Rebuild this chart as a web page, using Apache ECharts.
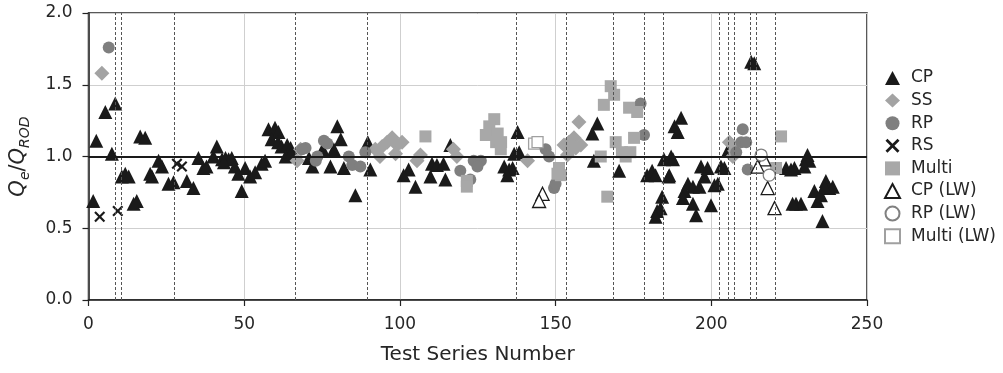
<!DOCTYPE html>
<html>
<head>
<meta charset="utf-8">
<script src="https://cdn.jsdelivr.net/npm/echarts@6/dist/echarts.min.js"></script>
<style>html,body{margin:0;padding:0;background:#fff}#c{width:1003px;height:373px}</style>
</head>
<body>
<div id="c"></div>
<script>
const xTicks = [0, 50, 100, 150, 200, 250];
const yTicks = [0.0, 0.5, 1.0, 1.5, 2.0];
const dividers = [8.5, 10.5, 27.5, 66.5, 89.5, 137.5, 153.5, 168.5, 178.5, 184.5, 202.5, 205.5, 207.5, 212.5, 214.5, 220.5];
const cpData = [[1.5,0.69],[2.5,1.11],[5.4,1.31],[8.6,1.37],[7.5,1.02],[16.6,1.14],[18.2,1.13],[10.7,0.86],[11.8,0.88],[12.9,0.86],[14.5,0.67],[15.5,0.69],
[22.5,0.97],[23.6,0.93],[19.8,0.88],[20.4,0.86],[25.7,0.81],[27.3,0.82],[31.6,0.83],[33.7,0.78],[35.3,0.99],[36.9,0.92],[37.9,0.93],[41.2,1.07],[40.1,1.0],[42.9,0.98],[44,0.99],[45,0.98],[46,0.99],[43.5,0.96],
[47,0.93],[48.1,0.88],[50.3,0.92],[51.9,0.86],[53.5,0.89],[49.2,0.76],[55.6,0.95],[56.7,0.97],[57.8,1.19],[59.9,1.2],[61,1.17],[58.8,1.12],[60.9,1.1],[62,1.07],
[63.8,1.08],[64.9,1.06],[63.3,1.0],[65,1.02],[79.9,1.21],[81,1.12],[78.8,1.05],[70.8,0.99],[71.9,0.93],[77.7,0.93],[82,0.92],[75.2,1.05],[85.7,0.73],[89.7,1.1],[90.5,0.91],[102.8,0.91],[101.2,0.87],[105,0.79],[110.3,0.95],[111.9,0.94],[114,0.95],[109.8,0.86],[114.6,0.84],[116.2,1.08],
[137.8,1.17],[136.7,1.02],[138.3,1.03],[133.5,0.93],[135.1,0.91],[136.2,0.92],[134.5,0.87],[163.4,1.23],[161.8,1.16],[162.3,0.97],
[170.4,0.9],[179.4,0.87],[181,0.9],[182.1,0.87],[184.8,0.98],[186.3,0.86],[184.2,0.72],[182.6,0.62],[183.7,0.64],[182.1,0.58],
[190.3,1.27],[188.2,1.21],[189.2,1.17],[187.1,1.0],[187.7,0.98],[186.5,0.87],[196.7,0.93],[198.8,0.92],[197.8,0.86],[192.5,0.81],[194.1,0.79],[191.4,0.76],[196.2,0.79],[190.9,0.71],[194.1,0.67],[199.9,0.66],[195.1,0.59],[201,0.8],[202.1,0.81],[203.1,0.93],[204.2,0.92],[205.3,1.04],
[212.8,1.66],[213.8,1.65],[224,0.92],[225.6,0.91],[226.7,0.92],[230.9,1.01],[230.4,0.98],[231.5,0.97],[229.9,0.93],[227.2,0.67],[228.8,0.67],[226.1,0.67],[233.1,0.76],[234.1,0.69],[235.2,0.73],[236.8,0.83],[237.9,0.78],[239,0.79],[236.3,0.79],[235.7,0.55]];
const ssData = [[4.3,1.58],[67,0.97],[68.1,1.05],[92.1,1.05],[94.3,1.07],[95.9,1.1],[97.5,1.13],[99.1,1.08],[100.7,1.1],[98.6,1.02],[93.6,1.0],[106.6,1.01],[105.5,0.97],[117.2,1.05],[118.3,1.0],[141,0.97],[157.5,1.24],[152.7,1.08],[154.3,1.1],[155.9,1.13],[154.9,1.05],[156.5,1.06],[158.1,1.08],[153.8,1.01],[205.8,1.1],[206.9,1.0],[207.5,1.04]];
const rpData = [[6.5,1.76],[69.7,1.06],[68.6,1.05],[75.6,1.11],[73.5,1.0],[73,0.97],[76.7,1.09],[83.6,1.0],[84.7,0.94],[87.3,0.93],[88.9,1.03],[119.4,0.9],[122.6,0.84],[123.7,0.97],[126,0.97],[124.9,0.93],[146.8,1.05],[147.9,1.0],[149.5,0.78],[150,0.81],[177.3,1.37],[178.4,1.15],[210.1,1.19],[209.6,1.1],[211.2,1.1],[208,1.03],[211.7,0.91]];
const rsData = [[3.6,0.58],[9.4,0.62],[28.4,0.95],[30,0.93]];
const multiData = [[108.2,1.14],[121.5,0.83],[121.5,0.79],[130.3,1.26],[128.7,1.21],[127.6,1.15],[129.8,1.15],[131.4,1.16],[130.9,1.1],[132.5,1.1],[132.4,1.05],[151.1,0.92],[151.7,0.87],[150.6,0.88],[164.5,1.0],[167.7,1.49],[168.8,1.43],[165.5,1.36],[173.6,1.34],[176.2,1.31],[169.3,1.1],[171.3,1.03],[172.5,1.0],[174,1.03],[175.2,1.13],[166.6,0.72],[222.4,1.14],[220.8,0.92]];
const cpLwData = [[145.8,0.74],[144.7,0.69],[217,0.98],[214.9,0.93],[218.1,0.78],[220.3,0.64]];
const rpLwData = [[216,1.01],[218.6,0.87]];
const multiLwData = [[143.1,1.09],[144.2,1.1]];

const FONT = 'DejaVu Sans';
const TXT = '#262626';
const X_PATH = 'path://M0,1.4 L1.4,0 L5,3.6 L8.6,0 L10,1.4 L6.4,5 L10,8.6 L8.6,10 L5,6.4 L1.4,10 L0,8.6 L3.6,5 Z';
const chart = echarts.init(document.getElementById('c'), null, {renderer: 'canvas'});

function sc(name, data, symbol, size, itemStyle) {
  return {name, type: 'scatter', data, symbol, symbolSize: size,
    itemStyle: Object.assign({opacity: 1}, itemStyle), z: 3,
    emphasis: {disabled: true}, animation: false};
}

chart.setOption({
  animation: false,
  backgroundColor: '#fff',
  grid: {left: 88, right: 136, top: 13, bottom: 73, show: true, borderColor: '#222', borderWidth: 1.5, backgroundColor: 'transparent'},
  xAxis: {
    type: 'value', min: xTicks[0], max: xTicks[xTicks.length - 1], interval: 50,
    name: 'Test Series Number', nameLocation: 'middle', nameGap: 45,
    nameTextStyle: {fontFamily: FONT, fontSize: 20, color: TXT},
    axisLine: {show: true, onZero: false, lineStyle: {color: '#222', width: 1.5}},
    axisTick: {show: true, inside: false, length: 6, lineStyle: {color: '#222', width: 1.2}},
    axisLabel: {fontFamily: FONT, fontSize: 17, color: TXT, margin: 16},
    splitLine: {show: true, lineStyle: {color: '#cfcfcf', width: 1}}
  },
  yAxis: {
    type: 'value', min: yTicks[0], max: yTicks[yTicks.length - 1], interval: 0.5,
    name: '{q|Q}{s|e}{n|/}{q|Q}{s|ROD}', nameLocation: 'middle', nameGap: 56, nameRotate: 90,
    nameTextStyle: {fontFamily: FONT, color: TXT,
      rich: {
        q: {fontFamily: FONT, fontSize: 21, fontStyle: 'italic', color: TXT, lineHeight: 28, verticalAlign: 'middle'},
        s: {fontFamily: FONT, fontSize: 14, fontStyle: 'italic', color: TXT, lineHeight: 14, verticalAlign: 'bottom'},
        n: {fontFamily: FONT, fontSize: 21, color: TXT, lineHeight: 28, verticalAlign: 'middle'}
      }},
    axisLine: {show: true, onZero: false, lineStyle: {color: '#222', width: 1.5}},
    axisTick: {show: true, inside: false, length: 6, lineStyle: {color: '#222', width: 1.2}},
    axisLabel: {fontFamily: FONT, fontSize: 17, color: TXT, margin: 16, formatter: v => v.toFixed(1)},
    splitLine: {show: true, lineStyle: {color: '#cfcfcf', width: 1}}
  },
  legend: {
    orient: 'vertical', left: 879, top: 64.5, itemWidth: 15, itemHeight: 14, itemGap: 5.6,
    data: ['CP', 'SS', 'RP', 'RS', 'Multi', 'CP (LW)', 'RP (LW)', 'Multi (LW)'],
    textStyle: {fontFamily: FONT, fontSize: 17, color: TXT, lineHeight: 14, padding: [0, 0, 0, 6]},
    selectedMode: false
  },
  series: [
    {name: 'guides', type: 'scatter', data: [], z: 1, silent: true,
      markLine: {silent: true, symbol: ['none', 'none'], animation: false, label: {show: false},
        data: dividers.map(v => ({xAxis: v, lineStyle: {color: '#555', width: 1, type: [3, 2]}}))
          .concat([{yAxis: 1, lineStyle: {color: '#1a1a1a', width: 1.8, type: 'solid'}}])}},
    sc('CP', cpData, 'triangle', 14, {color: '#1a1a1a'}),
    sc('SS', ssData, 'diamond', 15, {color: '#a3a3a3'}),
    sc('RP', rpData, 'circle', 12, {color: '#7f7f7f'}),
    sc('RS', rsData, X_PATH, 11, {color: '#1a1a1a'}),
    sc('Multi', multiData, 'rect', 12, {color: '#a8a8a8'}),
    sc('CP (LW)', cpLwData, 'triangle', 13, {color: '#fff', borderColor: '#1a1a1a', borderWidth: 1.3}),
    sc('RP (LW)', rpLwData, 'circle', 12, {color: '#fff', borderColor: '#808080', borderWidth: 1.3}),
    sc('Multi (LW)', multiLwData, 'rect', 11, {color: '#fff', borderColor: '#a0a0a0', borderWidth: 1.3})
  ]
});
</script>
</body>
</html>
